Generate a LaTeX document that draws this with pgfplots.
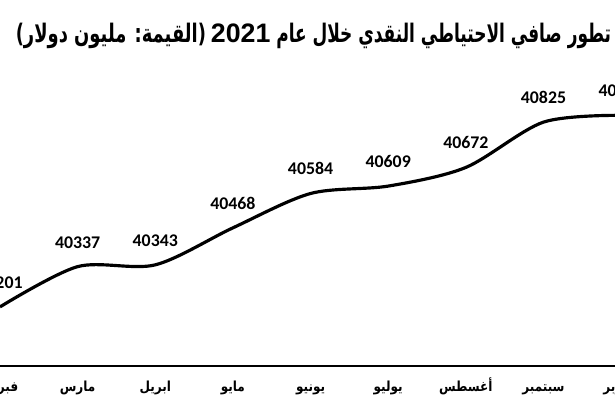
\documentclass[border=0pt]{standalone}
\usepackage{fontspec}
\usepackage{graphicx}
\usepackage{pgfplots}
\pgfplotsset{compat=1.18}
\TeXXeTstate=1
\newfontfamily\arabicfont[Script=Arabic]{DejaVu Sans}
\newfontfamily\labelfont{Carlito}
\newfontfamily\digitfont{Liberation Sans}
\newcommand{\ml}[1]{\scalebox{0.87}[1]{\beginR #1\endR}}
\begin{document}
\begin{tikzpicture}
\begin{axis}[
  x=39.2pt, y=0.1495pt,
  xmin=1.5, xmax=10.5, ymin=40000, ymax=41000,
  axis x line*=bottom, axis y line=none,
  axis line style={-},
  x axis line style={line width=1pt, black},
  xtick={2,...,10},
  xticklabels={{\ml{فبراير}},{\ml{مارس}},{\ml{ابريل}},{\ml{مايو}},{\ml{يونيو}},{\ml{يوليو}},{\ml{أغسطس}},{\ml{سبتمبر}},{\ml{أكتوبر}}},
  major tick length=0pt,
  xticklabel style={font=\arabicfont\bfseries\fontsize{7}{8}\selectfont, anchor=base, inner sep=0pt, yshift=-12.5pt},
  ytick=\empty,
  clip=false,
]
\addplot[black, line width=1.6pt, smooth, mark=none,
  nodes near coords, point meta=explicit symbolic,
  every node near coord/.append style={font=\labelfont\bfseries\fontsize{9}{10}\selectfont, inner sep=0pt, yshift=8.5pt}]
  table[meta=label] {
  x y label
  2 40201 40201
  3 40337 40337
  4 40343 40343
  5 40468 40468
  6 40584 40584
  7 40609 40609
  8 40672 40672
  9 40825 40825
  10 40848 40848
  };
\coordinate (O) at (axis cs:2,40000);
\end{axis}
\node[anchor=base, inner sep=0pt] at ([shift={(158.25pt,163.5pt)}]O) {\resizebox{96pt}{9.8pt}{\arabicfont\bfseries\fontsize{13.5}{16}\selectfont\beginR(القيمة: مليون دولار)\endR}\hspace{2.5pt}{\digitfont\bfseries\fontsize{13.5}{16}\selectfont 2021}\hspace{3pt}\resizebox{169pt}{9.8pt}{\arabicfont\bfseries\fontsize{13.5}{16}\selectfont\beginR تطور صافي الاحتياطي النقدي خلال عام\endR}};
\pgfresetboundingbox
\path[use as bounding box] (O) ++(3pt,-20pt) rectangle ++(307.5pt,205pt);
\end{tikzpicture}
\end{document}
